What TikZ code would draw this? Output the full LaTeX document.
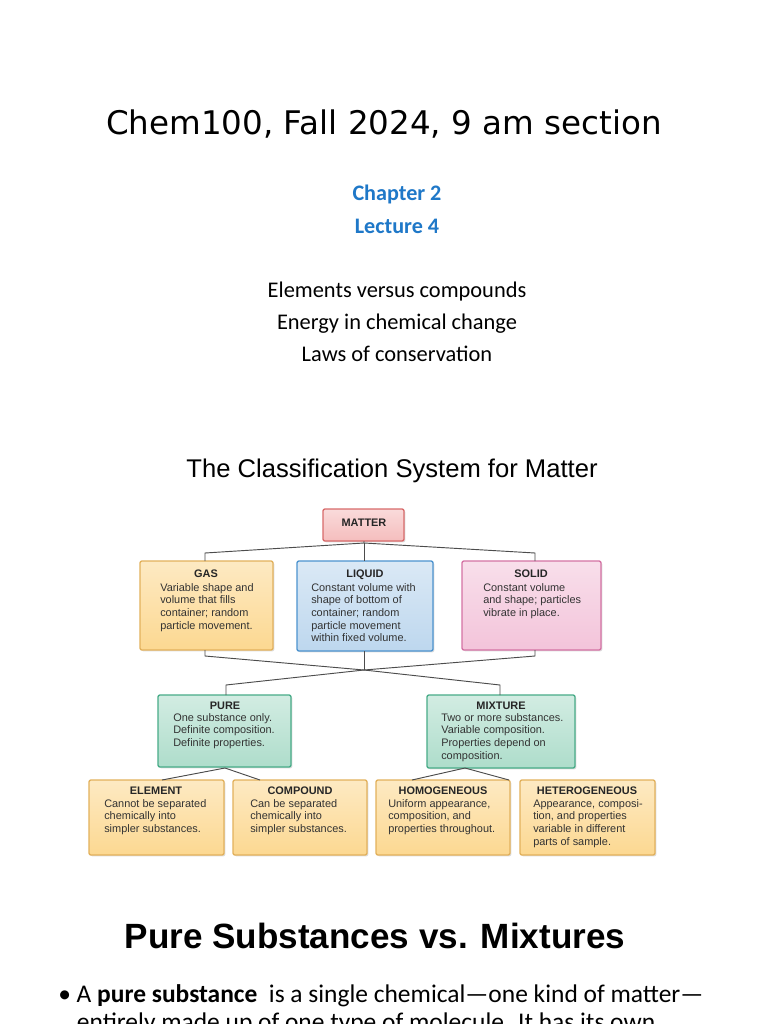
\documentclass[tikz,border=0pt]{standalone}
\usepackage{fontspec}
\setmainfont{Carlito}
\newfontfamily\djv{DejaVu Sans}
\newfontfamily\lib{Liberation Sans}
\usetikzlibrary{shadows}
\definecolor{tblue}{HTML}{1F78C8}
\definecolor{orF}{HTML}{FCD891}\definecolor{orD}{HTML}{E2B15C}
\definecolor{blF}{HTML}{BDD7EE}\definecolor{blD}{HTML}{4C93CF}
\definecolor{piF}{HTML}{F3C4DA}\definecolor{piD}{HTML}{D472A4}
\definecolor{reF}{HTML}{F5BDBD}\definecolor{reD}{HTML}{D86A6A}
\definecolor{grF}{HTML}{AEDDCB}\definecolor{grD}{HTML}{48AC88}
\begin{document}
\begin{tikzpicture}[x=0.75pt,y=-0.75pt,
 bx/.style={draw=#1D,line width=1pt,rounded corners=1.5pt,top color=#1F!55!white,bottom color=#1F,drop shadow={opacity=0.25,shadow xshift=1pt,shadow yshift=-1pt}},
 hd/.style={font=\lib\bfseries\fontsize{8.2}{9.4}\selectfont,anchor=north,inner sep=0pt,text=black!85},
 bd/.style={font=\lib\fontsize{8.2}{9.5}\selectfont,anchor=north west,inner sep=0pt,align=left,text=black!80},
 ln/.style={draw=black!70,line width=0.7pt}]
\useasboundingbox (0,0) rectangle (768,1024);
\fill[white] (0,0) rectangle (768,1024);
\node[font=\djv\fontsize{24.4}{28}\selectfont] (title) at (384,124) {Chem100, Fall 2024, 9 am section};
\node[font=\bfseries\fontsize{16.6}{19}\selectfont,text=tblue] (ch) at (397,194) {Chapter 2};
\node[font=\bfseries\fontsize{16.6}{19}\selectfont,text=tblue] (lec) at (397,226) {Lecture 4};
\node[font=\fontsize{16.8}{24}\selectfont,align=center] (topics) at (397,322) {Elements versus compounds\\Energy in chemical change\\Laws of conservation};
\node[font=\lib\fontsize{19.2}{22}\selectfont] (cls) at (392,471) {The Classification System for Matter};
% boxes
\draw[bx=re] (323,509) rectangle (404,541); \coordinate (mat) at (364,541);
\node[hd] (matter) at (364,519) {MATTER};
\draw[bx=or] (140,561) rectangle (273,650);
\draw[bx=bl] (297,561) rectangle (433,651);
\draw[bx=pi] (462,561) rectangle (601,650);
\draw[bx=gr] (158,695) rectangle (291,767);
\draw[bx=gr] (427,695) rectangle (575,768);
\draw[bx=or] (89,780) rectangle (224,855);
\draw[bx=or] (233,780) rectangle (367,855);
\draw[bx=or] (376,780) rectangle (510,855);
\draw[bx=or] (520,780) rectangle (655,855);
\node[hd] (gas) at (206,570) {GAS};
\node[bd] (gasb) at (160,583) {Variable shape and\\volume that fills\\container; random\\particle movement.};
\node[hd] (liq) at (365,570) {LIQUID};
\node[bd] (liqb) at (311,583) {Constant volume with\\shape of bottom of\\container; random\\particle movement\\within fixed volume.};
\node[hd] (sol) at (531,570) {SOLID};
\node[bd] (solb) at (483,583) {Constant volume\\and shape; particles\\vibrate in place.};
\node[hd] (pure) at (225,702) {PURE};
\node[bd] (pureb) at (173,713) {One substance only.\\Definite composition.\\Definite properties.};
\node[hd] (mix) at (501,702) {MIXTURE};
\node[bd] (mixb) at (441,713) {Two or more substances.\\Variable composition.\\Properties depend on\\composition.};
\node[hd] (el) at (156,787) {ELEMENT};
\node[bd] (elb) at (104,799) {Cannot be separated\\chemically into\\simpler substances.};
\node[hd] (co) at (300,787) {COMPOUND};
\node[bd] (cob) at (250,799) {Can be separated\\chemically into\\simpler substances.};
\node[hd] (ho) at (443,787) {HOMOGENEOUS};
\node[bd] (hob) at (388,799) {Uniform appearance,\\composition, and\\properties throughout.};
\node[hd] (he) at (587,787) {HETEROGENEOUS};
\node[bd] (heb) at (533,799) {Appearance, composi-\\tion, and properties\\variable in different\\parts of sample.};
% connectors
\coordinate (j1) at (364,543); \coordinate (j2) at (364,670);
\draw[ln] (mat)--(j1)--(205,553)--(205,561);
\draw[ln] (j1)--(535,553)--(535,561);
\draw[ln] (j1)--(364,561);
\draw[ln] (205,650)--(205,656)--(j2); \draw[ln] (535,650)--(535,656)--(j2);
\draw[ln] (364,651)--(j2);
\draw[ln] (j2)--(226,685)--(226,695); \draw[ln] (j2)--(500,685)--(500,695);
\draw[ln] (162,780)--(225,768)--(260,780);
\draw[ln] (412,780)--(465,768)--(509,780);
\node[font=\lib\bfseries\fontsize{26.3}{31}\selectfont] (pvm) at (375,936) {Pure Substances vs. Mixtures};
\node[font=\fontsize{19.1}{21}\selectfont,anchor=north west,align=left,inner sep=0pt] (bul) at (58,984) {\textbullet\ A \textbf{pure substance}\ \ is a single chemical—one kind of matter—\\\hspace*{14pt}entirely made up of one type of molecule. It has its own};
\end{tikzpicture}
\end{document}
